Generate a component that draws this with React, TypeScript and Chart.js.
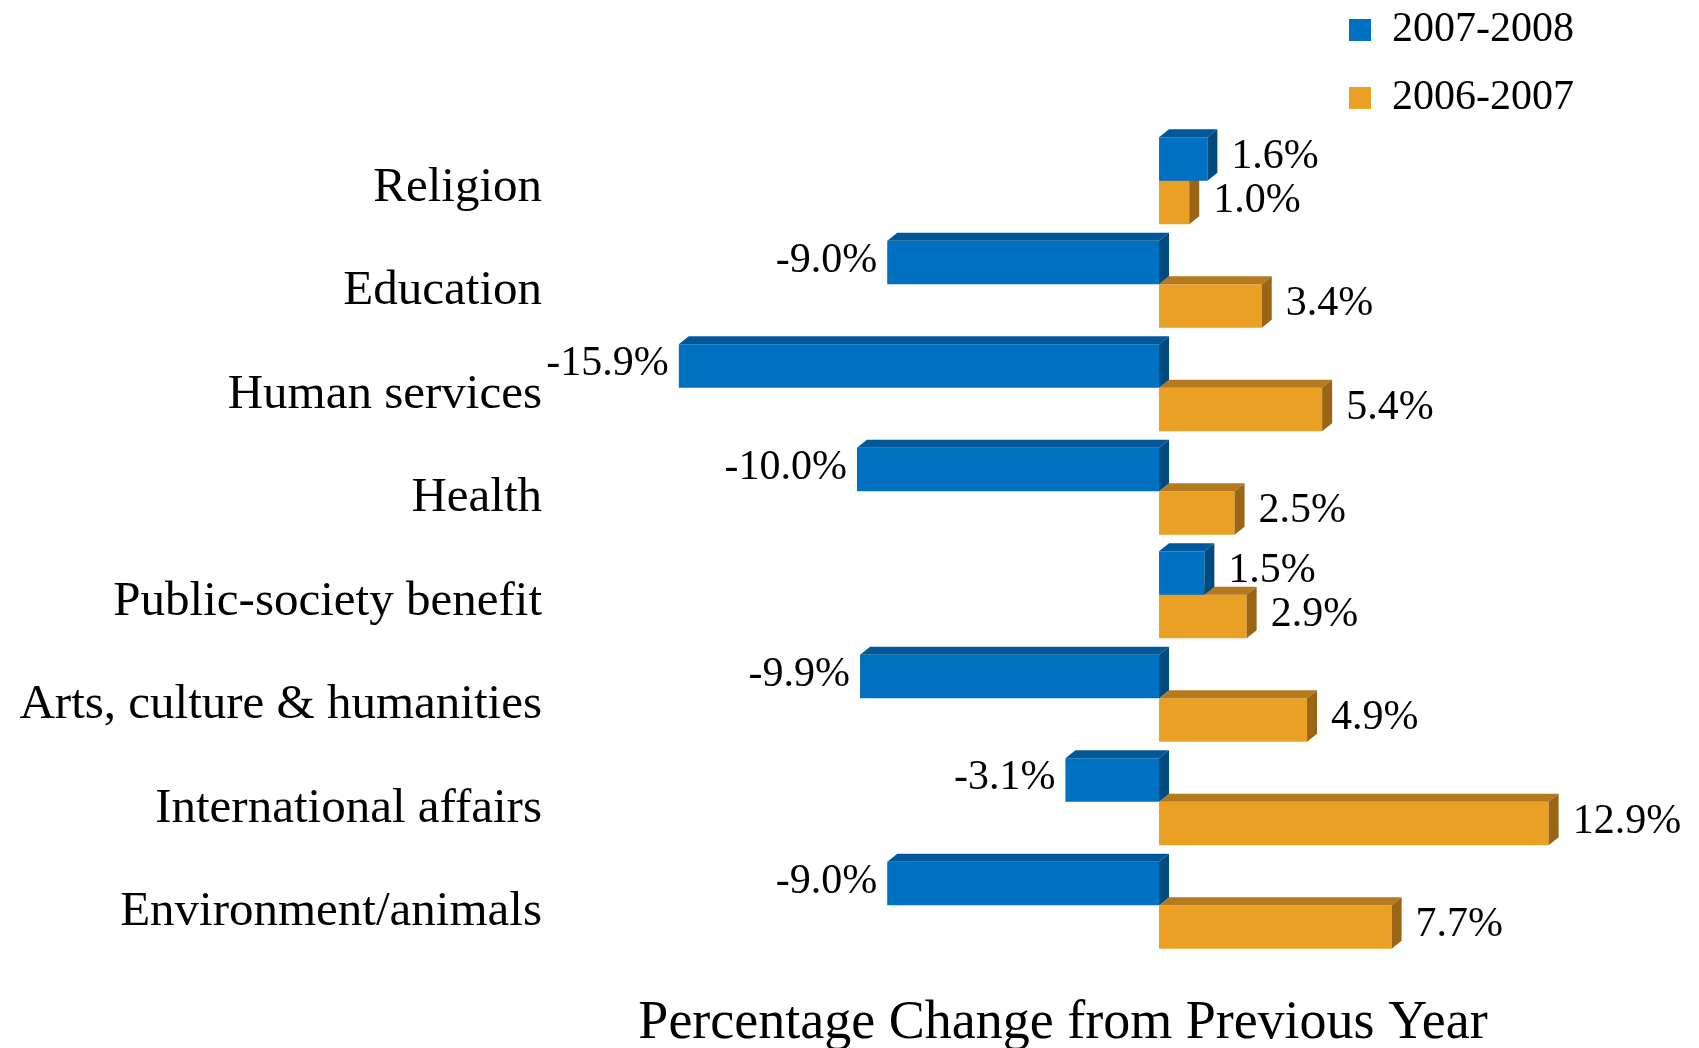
import React, { useEffect, useRef } from 'react';
import { Chart, registerables } from 'chart.js';

Chart.register(...registerables);

const categories = [
  'Religion',
  'Education',
  'Human services',
  'Health',
  'Public-society benefit',
  'Arts, culture & humanities',
  'International affairs',
  'Environment/animals',
];
const seriesNames = ['2007-2008', '2006-2007'];
const values20072008 = [1.6, -9.0, -15.9, -10.0, 1.5, -9.9, -3.1, -9.0];
const values20062007 = [1.0, 3.4, 5.4, 2.5, 2.9, 4.9, 12.9, 7.7];
const axisTitle = 'Percentage Change from Previous Year';

const FONT = "'Liberation Serif', 'Times New Roman', serif";
const frontColors = ['#0070C0', '#E9A024'];
const topColors = ['#00589A', '#B47A1D'];
const sideColors = ['#004A80', '#9A6615'];
const DX = 10;
const DY = 8;

const bar3d = {
  id: 'bar3d',
  afterDatasetDraw(chart: any, args: any) {
    const ctx = chart.ctx;
    const i = args.index;
    ctx.save();
    args.meta.data.forEach((el: any) => {
      const { x, y, base, height } = el.getProps(['x', 'y', 'base', 'height'], true);
      const l = Math.min(x, base);
      const r = Math.max(x, base);
      const t = y - height / 2;
      const b = y + height / 2;
      ctx.fillStyle = topColors[i];
      ctx.beginPath();
      ctx.moveTo(l, t);
      ctx.lineTo(r, t);
      ctx.lineTo(r + DX, t - DY);
      ctx.lineTo(l + DX, t - DY);
      ctx.closePath();
      ctx.fill();
      ctx.fillStyle = sideColors[i];
      ctx.beginPath();
      ctx.moveTo(r, t);
      ctx.lineTo(r + DX, t - DY);
      ctx.lineTo(r + DX, b - DY);
      ctx.lineTo(r, b);
      ctx.closePath();
      ctx.fill();
    });
    ctx.restore();
  },
};

const valueLabels = {
  id: 'valueLabels',
  afterDatasetsDraw(chart: any) {
    const ctx = chart.ctx;
    ctx.save();
    ctx.font = `42px ${FONT}`;
    ctx.fillStyle = '#000';
    ctx.textBaseline = 'middle';
    chart.data.datasets.forEach((ds: any, di: number) => {
      const meta = chart.getDatasetMeta(di);
      meta.data.forEach((el: any, j: number) => {
        const v = ds.data[j];
        const { x, y } = el.getProps(['x', 'y'], true);
        const txt = v.toFixed(1) + '%';
        if (v >= 0) {
          ctx.textAlign = 'left';
          ctx.fillText(txt, x + 24, y - 2);
        } else {
          ctx.textAlign = 'right';
          ctx.fillText(txt, x - 10, y - 2);
        }
      });
    });
    ctx.restore();
  },
};

export default function App() {
  const ref = useRef<HTMLCanvasElement>(null);
  useEffect(() => {
    if (!ref.current) return;
    const chart = new Chart(ref.current, {
      type: 'bar',
      data: {
        labels: categories,
        datasets: [
          {
            label: seriesNames[0],
            data: values20072008,
            backgroundColor: frontColors[0],
            borderWidth: 0,
            categoryPercentage: 0.84,
            barPercentage: 1.0,
          },
          {
            label: seriesNames[1],
            data: values20062007,
            backgroundColor: frontColors[1],
            borderWidth: 0,
            categoryPercentage: 0.84,
            barPercentage: 1.0,
          },
        ],
      },
      options: {
        indexAxis: 'y',
        responsive: false,
        animation: false,
        devicePixelRatio: 1,
        events: [],
        layout: { padding: { top: -17, right: 99, bottom: -3, left: 0 } },
        scales: {
          x: {
            type: 'linear',
            min: -20,
            max: 13.64,
            grid: { display: false, drawTicks: false },
            border: { display: false },
            ticks: { display: false },
            title: {
              display: true,
              text: axisTitle,
              color: '#000',
              font: { family: FONT, size: 54, lineHeight: 1 },
              padding: { top: 40, bottom: 0 },
            },
          },
          y: {
            type: 'category',
            position: 'left',
            grid: { display: false, drawTicks: false },
            border: { display: false },
            ticks: {
              color: '#000',
              font: { family: FONT, size: 49 },
              padding: 13,
              autoSkip: false,
              labelOffset: 7,
            },
            afterFit: (s: any) => {
              s.width = 555;
            },
          },
          x2: {
            type: 'linear',
            position: 'top',
            display: false,
            stack: 'leg',
            stackWeight: 3,
          },
          y2: {
            type: 'linear',
            position: 'right',
            display: true,
            grid: { display: false, drawTicks: false },
            border: { display: false },
            ticks: { display: false },
            afterFit: (s: any) => {
              s.width = 29;
            },
          },
        } as any,
        plugins: {
          tooltip: { enabled: false },
          legend: {
            position: 'top',
            align: 'end',
            stack: 'leg',
            stackWeight: 1,
            labels: {
              color: '#000',
              font: { family: FONT, size: 42 },
              boxWidth: 22,
              boxHeight: 22,
              padding: 26,
            },
          } as any,
        },
      },
      plugins: [bar3d, valueLabels],
    });
    return () => chart.destroy();
  }, []);
  return (
    <canvas
      ref={ref}
      width={1699}
      height={1048}
      style={{ position: 'absolute', left: 0, top: 0, display: 'block' }}
    />
  );
}
